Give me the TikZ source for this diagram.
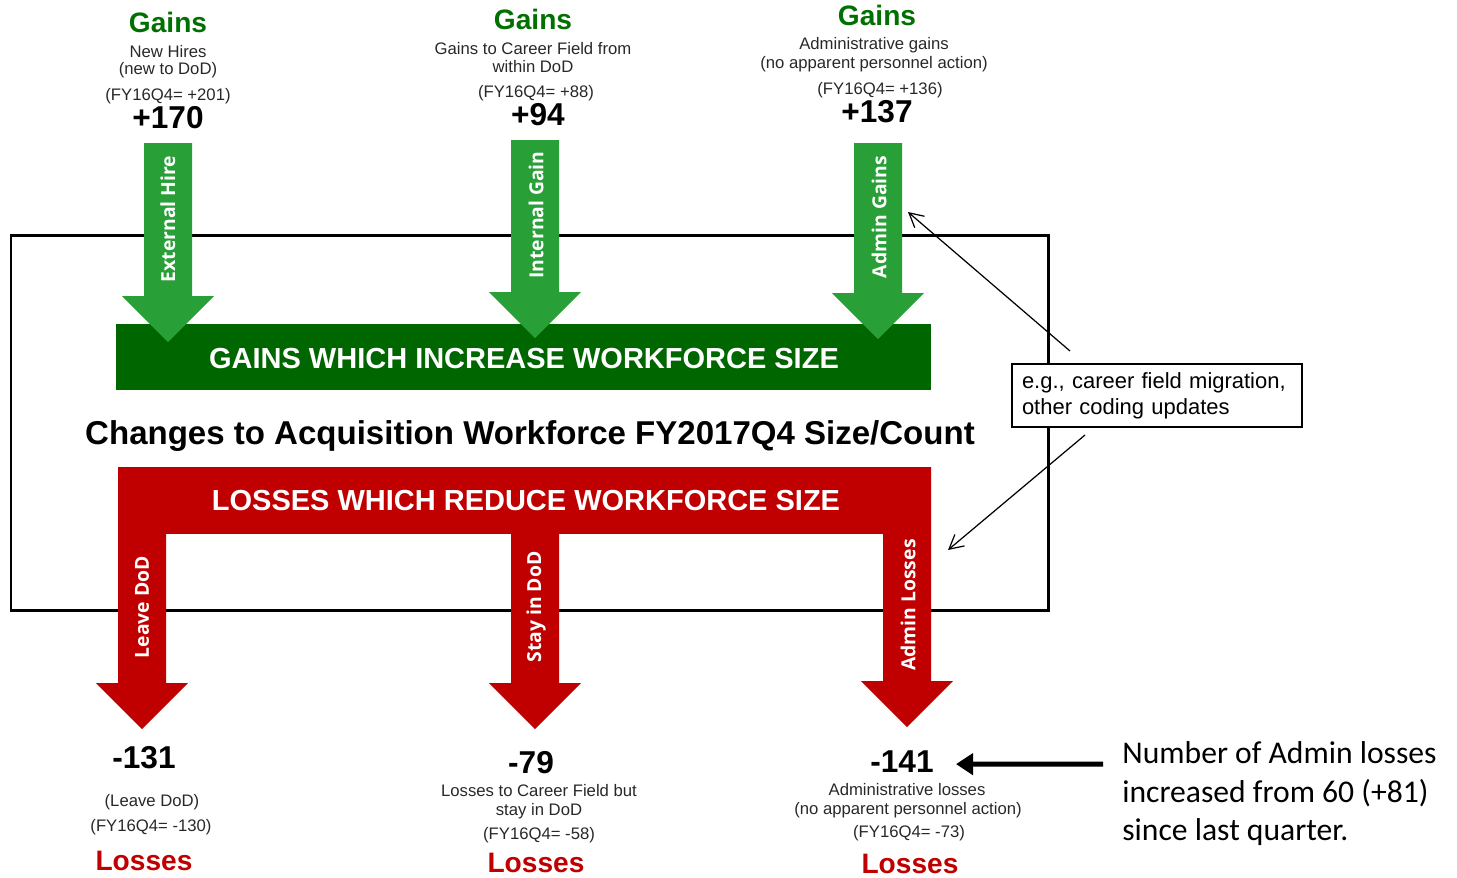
\documentclass[tikz,border=0pt]{standalone}
\usepackage{fontspec}
\setmainfont{Liberation Sans}
\newfontfamily\arrowfont{Open Sans}
\newfontfamily\notefont{Carlito}
\usepackage{tikz}
\usetikzlibrary{arrows.meta}

\definecolor{gainbar}{RGB}{0,102,0}
\definecolor{gainarrow}{RGB}{40,160,55}
\definecolor{gaintext}{RGB}{0,112,0}
\definecolor{lossred}{RGB}{192,0,0}
\definecolor{smalltext}{RGB}{40,40,40}

\newcommand{\fsz}[1]{\fontsize{#1}{#1}\selectfont}

% fat downward arrow: colour, centre x, top y, y where the head starts
\newcommand{\blockarrow}[4]{%
\fill[#1] (#2-24,#3) -- (#2+24,#3) -- (#2+24,#4) -- (#2+46,#4) -- (#2,#4+46) -- (#2-46,#4) -- (#2-24,#4) -- cycle;}

\tikzset{
  headword/.style={font=\bfseries\fsz{16pt}, anchor=base, inner sep=0},
  desc/.style={font=\fsz{9.5pt}, text=smalltext, anchor=base, inner sep=0},
  count/.style={font=\bfseries\fsz{18pt}, anchor=base, inner sep=0},
  barlabel/.style={font=\bfseries\fsz{16.5pt}, text=white, anchor=base, inner sep=0},
  shaftlabel/.style={font=\arrowfont\bfseries\fsz{11pt}, text=white, rotate=90, inner sep=0},
  pointer/.style={-{Straight Barb[length=0.28cm,width=0.3cm]}, line width=0.7pt},
  bigarrow/.style={-{Triangle[length=0.34cm,width=0.42cm]}, line width=0.1cm},
}

\begin{document}
\begin{tikzpicture}[x=0.02cm, y=-0.02cm]

\useasboundingbox (0,0) rectangle (1457,877);

% frame round the workforce
\draw[line width=0.06cm] (11,235) rectangle (1048,610);

% gains side
\fill[gainbar] (116,324) rectangle (931,390);
\blockarrow{gainarrow}{168}{143}{296}
\blockarrow{gainarrow}{535}{140}{292}
\blockarrow{gainarrow}{878}{143}{293}

\node[barlabel] (gainbarlbl) at (524,368) {GAINS WHICH INCREASE WORKFORCE SIZE};
\node[shaftlabel] (exthire) at (168,219) {External Hire};
\node[shaftlabel] (intgain) at (536,215) {Internal Gain};
\node[shaftlabel] (admgain) at (879,217) {Admin Gains};

\node[anchor=base, inner sep=0, font=\bfseries\fsz{18.8pt}] (title) at (530,444) {Changes to Acquisition Workforce FY2017Q4 Size/Count};

% losses side
\fill[lossred] (118,467) rectangle (931,534);
\blockarrow{lossred}{142}{467}{683}
\blockarrow{lossred}{535}{467}{683}
\blockarrow{lossred}{907}{467}{681}

\node[barlabel] (lossbarlbl) at (526,510) {LOSSES WHICH REDUCE WORKFORCE SIZE};
\node[shaftlabel] (leavedod) at (142,607) {Leave DoD};
\node[shaftlabel] (staydod) at (536,607) {Stay in DoD};
\node[shaftlabel] (admloss) at (908,605) {Admin Losses};

% gains figures on top
\node[headword, text=gaintext] (gainsA) at (168,32) {Gains};
\node[desc] (descA1) at (168,57) {New Hires};
\node[desc] (descA2) at (168,74) {(new to DoD)};
\node[desc] (prevA) at (168,100) {(FY16Q4= +201)};
\node[count] (countA) at (168,128) {+170};

\node[headword, text=gaintext] (gainsB) at (533,29) {Gains};
\node[desc] (descB1) at (533,54) {Gains to Career Field from};
\node[desc] (descB2) at (533,72) {within DoD};
\node[desc] (prevB) at (536,97) {(FY16Q4= +88)};
\node[count] (countB) at (538,125) {+94};

\node[headword, text=gaintext] (gainsC) at (877,25) {Gains};
\node[desc] (descC1) at (874,49) {Administrative gains};
\node[desc] (descC2) at (874,68) {(no apparent personnel action)};
\node[desc] (prevC) at (880,94) {(FY16Q4= +136)};
\node[count] (countC) at (877,122) {+137};

% losses figures below
\node[count] (countD) at (144,768) {-131};
\node[desc] (descD1) at (152,806) {(Leave DoD)};
\node[desc] (prevD) at (151,831) {(FY16Q4= -130)};
\node[headword, text=lossred] (lossD) at (144,870) {Losses};

\node[count] (countE) at (531,773) {-79};
\node[desc] (descE1) at (539,796) {Losses to Career Field but};
\node[desc] (descE2) at (539,815) {stay in DoD};
\node[desc] (prevE) at (539,839) {(FY16Q4= -58)};
\node[headword, text=lossred] (lossE) at (536,872) {Losses};

\node[count] (countF) at (902,772) {-141};
\node[desc] (descF1) at (907,795) {Administrative losses};
\node[desc] (descF2) at (908,814) {(no apparent personnel action)};
\node[desc] (prevF) at (909,837) {(FY16Q4= -73)};
\node[headword, text=lossred] (lossF) at (910,873) {Losses};

% admin moves explained
\node[draw, fill=white, line width=0.04cm, minimum width=5.8cm, minimum height=1.26cm, text width=5.4cm, align=left,
      inner xsep=0.2cm, inner ysep=0, font={\fontsize{12.5pt}{14.7pt}\selectfont}] (hint) at (1157,395.5)
      {e.g., career field migration,\\other coding updates};
\coordinate (tipA) at (908,212);
\coordinate (tipB) at (948,550);
\draw[pointer] ([shift={(-87,-12)}]hint.north) -- (tipA);
\draw[pointer] ([shift={(-72,7)}]hint.south) -- (tipB);

\node[anchor=base west, inner sep=0, font=\notefont\fsz{18pt}] (note1) at (1122,763) {Number of Admin losses};
\node[anchor=base west, inner sep=0, font=\notefont\fsz{18pt}] (note2) at (1122,802) {increased from 60 (+81)};
\node[anchor=base west, inner sep=0, font=\notefont\fsz{18pt}] (note3) at (1122,840) {since last quarter.};
\draw[bigarrow] ([shift={(-19,12)}]note1.west) -- ([shift={(22,3)}]countF.east);

\end{tikzpicture}
\end{document}
